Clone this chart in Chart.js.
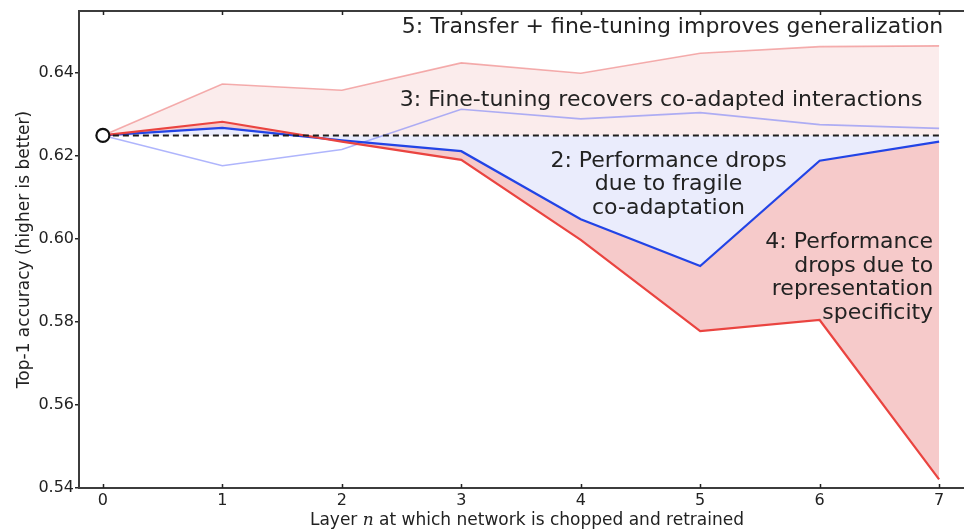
<!DOCTYPE html>
<html>
<head>
<meta charset="utf-8">
<script src="https://cdn.jsdelivr.net/npm/chart.js@4/dist/chart.umd.min.js"></script>
<style>
  html, body { margin: 0; padding: 0; background: #fff; overflow: hidden; }
  canvas { display: block; }
</style>
</head>
<body>
<canvas id="chart" width="964" height="531"></canvas>
<script>
// Layer at which the network is chopped and retrained
const layers = [0, 1, 2, 3, 4, 5, 6, 7];

// Top-1 accuracy of the base network
const baseAccuracy = 0.625;

// Selffer (BnB) and selffer with fine-tuning (BnB+)
const bnb     = [0.625, 0.6268, 0.6238, 0.6212, 0.6048, 0.5935, 0.6189, 0.6235];
const bnbPlus = [0.625, 0.6177, 0.6216, 0.6313, 0.6290, 0.6305, 0.6276, 0.6267];

// Transfer (AnB) and transfer with fine-tuning (AnB+)
const anb     = [0.625, 0.6283, 0.6235, 0.6191, 0.5998, 0.5778, 0.5805, 0.5421];
const anbPlus = [0.625, 0.6374, 0.6359, 0.6425, 0.6400, 0.6448, 0.6464, 0.6466];

// Axis tick values
const xTicks = [0, 1, 2, 3, 4, 5, 6, 7];
const yTicks = [0.54, 0.56, 0.58, 0.60, 0.62, 0.64];

// Region labels
const noteTexts = [
  ['5: Transfer + fine-tuning improves generalization'],
  ['3: Fine-tuning recovers co-adapted interactions'],
  ['2: Performance drops', 'due to fragile', 'co-adaptation'],
  ['4: Performance', 'drops due to', 'representation', 'specificity']
];

const FONT = "'DejaVu Sans', 'Liberation Sans', sans-serif";
const TEXT = '#222222';
const SPINE = '#3c3c3c';

const toPoints = arr => layers.map((x, i) => ({ x: x, y: arr[i] }));

// Anchors (data coordinates) and alignment for each region label
const noteLayout = [
  { x: 7.035, y: 0.6511, align: 'right' },
  { x: 6.86,  y: 0.6335, align: 'right' },
  { x: 4.735, y: 0.6188, align: 'center' },
  { x: 6.95,  y: 0.5992, align: 'right' }
];

const notesPlugin = {
  id: 'regionNotes',
  afterDatasetsDraw(chart) {
    const { ctx, scales } = chart;
    ctx.save();
    ctx.font = '22px ' + FONT;
    ctx.fillStyle = TEXT;
    ctx.textBaseline = 'middle';
    const lineH = 23.5;
    noteTexts.forEach((lines, k) => {
      const pos = noteLayout[k];
      const px = scales.x.getPixelForValue(pos.x);
      const py = scales.y.getPixelForValue(pos.y);
      ctx.textAlign = pos.align;
      lines.forEach((t, j) => ctx.fillText(t, px, py + j * lineH));
    });
    ctx.restore();
  }
};

// Top spine, inward x ticks and the x-axis title with an italic "n"
const framePlugin = {
  id: 'frame',
  afterDraw(chart) {
    const { ctx, chartArea, scales } = chart;
    ctx.save();
    ctx.strokeStyle = SPINE;
    ctx.lineWidth = 2;
    ctx.beginPath();
    ctx.moveTo(chartArea.left, chartArea.top);
    ctx.lineTo(chartArea.right + 2, chartArea.top);
    ctx.stroke();

    ctx.lineWidth = 1.5;
    ctx.strokeStyle = '#222';
    scales.x.ticks.forEach(t => {
      const px = Math.round(scales.x.getPixelForValue(t.value)) + 0.5;
      ctx.beginPath();
      ctx.moveTo(px, chartArea.bottom);
      ctx.lineTo(px, chartArea.bottom - 4);
      ctx.moveTo(px, chartArea.top);
      ctx.lineTo(px, chartArea.top + 4);
      ctx.stroke();
    });

    const parts = [
      { t: 'Layer ', f: '17px ' + FONT },
      { t: 'n', f: 'italic 17px "DejaVu Serif", serif' },
      { t: ' at which network is chopped and retrained', f: '17px ' + FONT }
    ];
    let total = 0;
    parts.forEach(p => { ctx.font = p.f; p.w = ctx.measureText(p.t).width; total += p.w; });
    const cx = scales.x.getPixelForValue(3.55);
    let x = cx - total / 2;
    const y = chartArea.bottom + 33;
    ctx.fillStyle = TEXT;
    ctx.textBaseline = 'middle';
    ctx.textAlign = 'left';
    parts.forEach(p => { ctx.font = p.f; ctx.fillText(p.t, x, y); x += p.w; });
    ctx.restore();
  }
};

new Chart(document.getElementById('chart'), {
  type: 'line',
  data: {
    datasets: [
      {
        label: 'base',
        data: toPoints(layers.map(() => baseAccuracy)),
        borderColor: '#1e1e1e',
        borderWidth: 2,
        borderDash: [6, 4],
        pointRadius: 0,
        fill: false,
        order: 1
      },
      {
        label: 'AnB+',
        data: toPoints(anbPlus),
        borderColor: 'rgba(236, 110, 110, 0.55)',
        borderWidth: 1.6,
        pointRadius: 0,
        fill: { target: 0, above: '#fbecec', below: '#fbecec' },
        order: 4
      },
      {
        label: 'BnB+',
        data: toPoints(bnbPlus),
        borderColor: 'rgba(110, 120, 250, 0.55)',
        borderWidth: 1.6,
        pointRadius: 0,
        fill: false,
        order: 5
      },
      {
        label: 'BnB',
        data: toPoints(bnb),
        borderColor: '#2244e6',
        borderWidth: 2.2,
        pointRadius: 0,
        fill: { target: 0, above: '#eaecfc', below: '#eaecfc' },
        order: 3
      },
      {
        label: 'AnB',
        data: toPoints(anb),
        borderColor: '#ea4440',
        borderWidth: 2.2,
        pointRadius: 0,
        fill: { target: 3, above: '#f6caca', below: '#f6caca' },
        order: 2
      },
      {
        label: 'base network',
        data: [{ x: layers[0], y: baseAccuracy }],
        borderColor: '#111',
        backgroundColor: '#fff',
        pointRadius: 6.5,
        pointBorderWidth: 2.2,
        showLine: false,
        fill: false,
        order: 0
      }
    ]
  },
  options: {
    responsive: false,
    animation: false,
    devicePixelRatio: 1,
    layout: { autoPadding: false, padding: { top: 11, right: 1, left: 0, bottom: 0 } },
    plugins: {
      legend: { display: false },
      tooltip: { enabled: false },
      filler: { drawTime: 'beforeDatasetsDraw' }
    },
    elements: { line: { tension: 0 } },
    scales: {
      x: {
        type: 'linear',
        min: -0.2,
        max: 7.2,
        afterBuildTicks: s => { s.ticks = xTicks.map(v => ({ value: v })); },
        afterFit: s => { s.height = 43; },
        grid: { drawOnChartArea: false, drawTicks: false },
        border: { display: true, color: SPINE, width: 2 },
        ticks: {
          padding: 3,
          color: TEXT,
          font: { family: FONT, size: 16 },
          callback: v => String(v)
        }
      },
      y: {
        type: 'linear',
        min: 0.54,
        max: 0.655,
        afterBuildTicks: s => { s.ticks = yTicks.map(v => ({ value: v })); },
        afterFit: s => { s.width = 79; },
        grid: { drawOnChartArea: false, drawTicks: true, tickLength: 4, color: '#222', lineWidth: 1.5 },
        border: { display: true, color: SPINE, width: 2 },
        ticks: {
          padding: 1,
          color: TEXT,
          font: { family: FONT, size: 16 },
          callback: v => Number(v).toFixed(2)
        },
        title: {
          display: true,
          text: 'Top-1 accuracy (higher is better)',
          color: TEXT,
          font: { family: FONT, size: 17 },
          padding: { top: 14, bottom: 0 }
        }
      }
    }
  },
  plugins: [notesPlugin, framePlugin]
});
</script>
</body>
</html>
